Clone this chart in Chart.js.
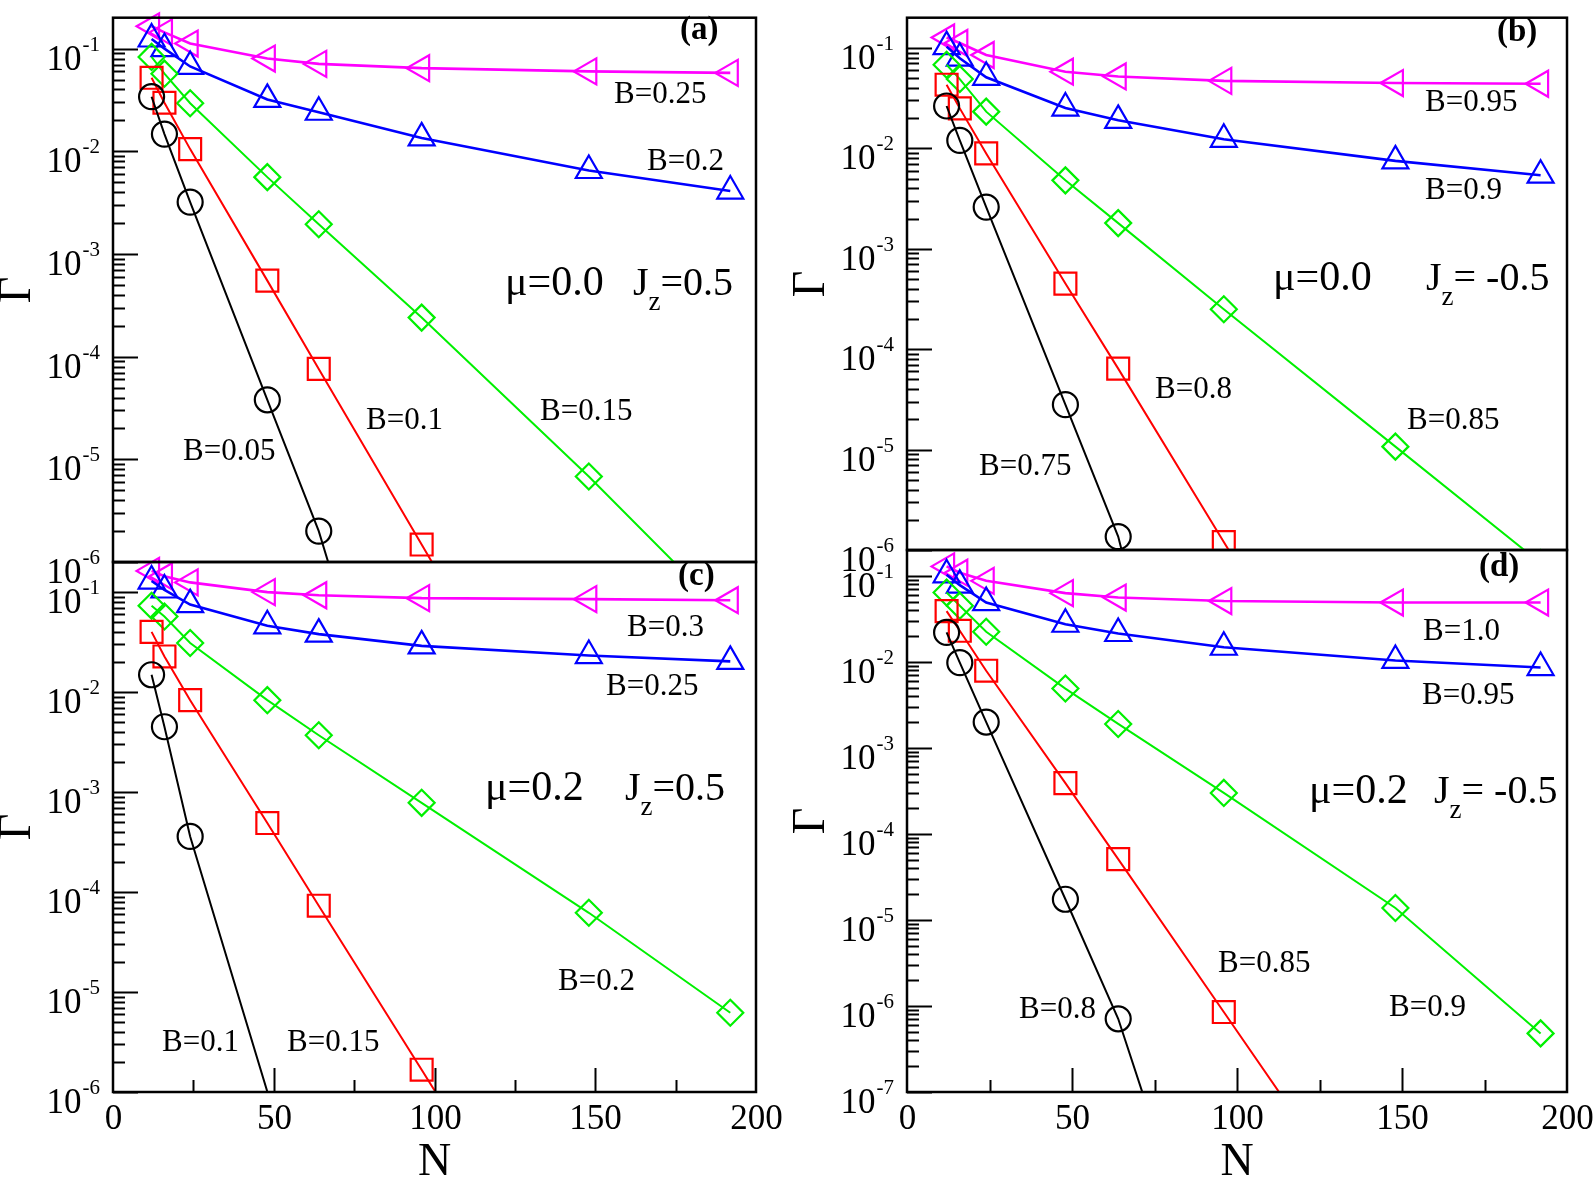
<!DOCTYPE html>
<html>
<head>
<meta charset="utf-8">
<title>Gamma vs N</title>
<script src="https://cdn.jsdelivr.net/npm/chart.js@4.4.0/dist/chart.umd.min.js"></script>
<style>
  html, body { margin: 0; padding: 0; background: #fff; }
  #wrap { position: relative; width: 1596px; height: 1178px; overflow: hidden; }
  #wrap canvas { position: absolute; left: 0; top: 0; }
</style>
</head>
<body>
<div id="wrap">
  <canvas id="chartC" width="1596" height="1178"></canvas>
  <canvas id="chartD" width="1596" height="1178"></canvas>
  <canvas id="chartA" width="1596" height="1178"></canvas>
  <canvas id="chartB" width="1596" height="1178"></canvas>
</div>
<script>
'use strict';

// ===== DATA =====
// chain lengths used in every panel
const N_VALUES = [12, 16, 24, 48, 64, 96, 148, 192];
const X_TICKS = [0, 50, 100, 150, 200];
const X_MINOR_TICKS = [25, 75, 125, 175];

// (a) mu=0.0, Jz=0.5  (last entries of the steep curves lie below the axis)
const A_B005 = [0.034, 0.0147, 0.0032, 3.8e-5, 2.0e-6, 1e-9];
const A_B010 = [0.052, 0.0297, 0.0105, 5.5e-4, 7.6e-5, 1.48e-6, 2.5e-9];
const A_B015 = [0.083, 0.057, 0.0294, 0.0056, 0.00195, 2.4e-4, 6.8e-6, 2.8e-7];
const A_B020 = [0.124, 0.10, 0.067, 0.032, 0.024, 0.0135, 0.0065, 0.0041];
const A_B025 = [0.165, 0.144, 0.112, 0.080, 0.071, 0.0645, 0.060, 0.058];

// (b) mu=0.0, Jz=-0.5
const B_B075 = [0.0264, 0.012, 0.0026, 2.8e-5, 1.36e-6, 1e-10];
const B_B080 = [0.043, 0.025, 0.0089, 4.5e-4, 6.4e-5, 1.2e-6, 2e-9];
const B_B085 = [0.068, 0.049, 0.0232, 0.0048, 0.0018, 2.5e-4, 1.07e-5, 7.4e-7];
const B_B090 = [0.103, 0.079, 0.051, 0.0252, 0.019, 0.0123, 0.0075, 0.0054];
const B_B095 = [0.127, 0.112, 0.085, 0.058, 0.052, 0.047, 0.0447, 0.044];

// (c) mu=0.2, Jz=0.5
const C_B010_N = [12, 16, 24, 64];
const C_B010 = [0.0149, 0.0045, 3.6e-4, 2e-8];
const C_B015 = [0.040, 0.0227, 0.0083, 4.9e-4, 7.3e-5, 1.67e-6, 3.5e-9];
const C_B020 = [0.073, 0.057, 0.031, 0.0083, 0.0037, 7.8e-4, 6.2e-5, 6.2e-6];
const C_B025 = [0.129, 0.105, 0.075, 0.046, 0.038, 0.029, 0.0232, 0.0203];
const C_B030 = [0.163, 0.144, 0.125, 0.10, 0.093, 0.087, 0.085, 0.083];

// (d) mu=0.2, Jz=-0.5
const D_B080 = [0.022, 0.0098, 0.002, 1.74e-5, 7.1e-7, 1.3e-10];
const D_B085 = [0.039, 0.023, 0.0079, 3.9e-4, 5.1e-5, 8.5e-7, 1.1e-9];
const D_B090 = [0.064, 0.045, 0.0224, 0.0049, 0.0019, 3.0e-4, 1.38e-5, 4.8e-7];
const D_B095 = [0.103, 0.078, 0.049, 0.0274, 0.0214, 0.0148, 0.0104, 0.0086];
const D_B100 = [0.129, 0.109, 0.0876, 0.063, 0.056, 0.051, 0.049, 0.049];

// ===== STYLE =====
const W = 1596, H = 1178;
const FONT = "'Liberation Serif', 'DejaVu Serif', serif";

const STYLES = {
  black:   { color: '#000000', shape: 'circle',   radius: 12.5, line: 2 },
  red:     { color: '#ff0000', shape: 'rect',     radius: 15.5, line: 2 },
  green:   { color: '#00f000', shape: 'rectRot',  radius: 13,   line: 2 },
  blue:    { color: '#0000ff', shape: 'triangle', radius: 15,   line: 2.6 },
  magenta: { color: '#ff00ff', shape: 'triangle', radius: 15,   line: 2.6, rot: -90 },
};

const PANELS = [
  {
    canvas: 'chartA', box: { left: 113, right: 756, top: 9, bottom: 562 }, yMin: 1e-6, xAxis: false,
    series: [
      { n: N_VALUES, v: A_B005, style: 'black' },
      { n: N_VALUES, v: A_B010, style: 'red' },
      { n: N_VALUES, v: A_B015, style: 'green' },
      { n: N_VALUES, v: A_B020, style: 'blue' },
      { n: N_VALUES, v: A_B025, style: 'magenta' },
    ],
    tag: ['(a)', 680, 39],
    param: { mu: 'μ=0.0', muX: 505, jX: 633, rest: '=0.5', y: 295 },
    notes: [['B=0.25', 614, 103], ['B=0.2', 647, 170], ['B=0.15', 540, 420],
            ['B=0.1', 366, 429], ['B=0.05', 183, 460]],
  },
  {
    canvas: 'chartB', box: { left: 907, right: 1567, top: 8, bottom: 550 }, yMin: 1e-6, xAxis: false,
    series: [
      { n: N_VALUES, v: B_B075, style: 'black' },
      { n: N_VALUES, v: B_B080, style: 'red' },
      { n: N_VALUES, v: B_B085, style: 'green' },
      { n: N_VALUES, v: B_B090, style: 'blue' },
      { n: N_VALUES, v: B_B095, style: 'magenta' },
    ],
    tag: ['(b)', 1497, 41],
    param: { mu: 'μ=0.0', muX: 1273, jX: 1426, rest: '= -0.5', y: 290 },
    notes: [['B=0.95', 1425, 111], ['B=0.9', 1425, 199], ['B=0.85', 1407, 429],
            ['B=0.8', 1155, 398], ['B=0.75', 979, 475]],
  },
  {
    canvas: 'chartC', box: { left: 113, right: 756, top: 562, bottom: 1092 }, yMin: 1e-6, xAxis: true,
    series: [
      { n: C_B010_N, v: C_B010, style: 'black' },
      { n: N_VALUES, v: C_B015, style: 'red' },
      { n: N_VALUES, v: C_B020, style: 'green' },
      { n: N_VALUES, v: C_B025, style: 'blue' },
      { n: N_VALUES, v: C_B030, style: 'magenta' },
    ],
    tag: ['(c)', 678, 585],
    param: { mu: 'μ=0.2', muX: 485, jX: 625, rest: '=0.5', y: 800 },
    notes: [['B=0.3', 627, 636], ['B=0.25', 606, 695], ['B=0.2', 558, 990],
            ['B=0.1', 162, 1051], ['B=0.15', 287, 1051]],
  },
  {
    canvas: 'chartD', box: { left: 907, right: 1567, top: 550, bottom: 1092 }, yMin: 1e-7, xAxis: true,
    series: [
      { n: N_VALUES, v: D_B080, style: 'black' },
      { n: N_VALUES, v: D_B085, style: 'red' },
      { n: N_VALUES, v: D_B090, style: 'green' },
      { n: N_VALUES, v: D_B095, style: 'blue' },
      { n: N_VALUES, v: D_B100, style: 'magenta' },
    ],
    tag: ['(d)', 1479, 576],
    param: { mu: 'μ=0.2', muX: 1309, jX: 1434, rest: '= -0.5', y: 803 },
    notes: [['B=1.0', 1423, 640], ['B=0.95', 1422, 704], ['B=0.9', 1389, 1016],
            ['B=0.85', 1218, 972], ['B=0.8', 1019, 1018]],
  },
];

const Y_MAX = 0.2;

// ===== DECORATION (frame, inward ticks, labels) =====
function decorPlugin(panel) {
  return {
    id: 'decor_' + panel.canvas,
    afterDatasetsDraw(chart) {
      const { ctx, chartArea: a, scales: { x, y } } = chart;
      ctx.save();
      ctx.strokeStyle = '#000';
      ctx.fillStyle = '#000';

      // frame
      ctx.lineWidth = 2.5;
      ctx.strokeRect(a.left, a.top, a.right - a.left, a.bottom - a.top);

      // y ticks (inward) and labels 10^k
      ctx.lineWidth = 2;
      const kMin = Math.round(Math.log10(panel.yMin));
      for (let k = kMin; k <= -1; k++) {
        const py = Math.round(y.getPixelForValue(Math.pow(10, k))) + 0.5;
        ctx.beginPath();
        ctx.moveTo(a.left, py);
        ctx.lineTo(a.left + 25, py);
        ctx.stroke();
        for (let m = 2; m <= 9; m++) {
          const v = m * Math.pow(10, k);
          if (v >= Y_MAX) break;
          const pm = Math.round(y.getPixelForValue(v)) + 0.5;
          ctx.beginPath();
          ctx.moveTo(a.left, pm);
          ctx.lineTo(a.left + 12, pm);
          ctx.stroke();
        }
        // label
        const exp = String(k);
        ctx.textBaseline = 'alphabetic';
        ctx.textAlign = 'right';
        ctx.font = '21px ' + FONT;
        const expRight = a.left - 13;
        const expW = ctx.measureText(exp).width;
        ctx.fillText(exp, expRight, py + 1);
        ctx.font = '35px ' + FONT;
        ctx.fillText('10', expRight - expW - 1, py + 20);
      }

      // x ticks and labels
      if (panel.xAxis) {
        ctx.lineWidth = 2;
        X_TICKS.forEach(t => {
          const px = Math.round(x.getPixelForValue(t)) + 0.5;
          if (t > 0 && t < 200) {
            ctx.beginPath();
            ctx.moveTo(px, a.bottom);
            ctx.lineTo(px, a.bottom - 24);
            ctx.stroke();
          }
          ctx.font = '35px ' + FONT;
          ctx.textAlign = 'center';
          ctx.textBaseline = 'alphabetic';
          ctx.fillText(String(t), px, a.bottom + 37);
        });
        X_MINOR_TICKS.forEach(t => {
          const px = Math.round(x.getPixelForValue(t)) + 0.5;
          ctx.beginPath();
          ctx.moveTo(px, a.bottom);
          ctx.lineTo(px, a.bottom - 12);
          ctx.stroke();
        });
        ctx.font = '46px ' + FONT;
        ctx.textAlign = 'center';
        ctx.fillText('N', (a.left + a.right) / 2, 1175);
      }

      // y title
      ctx.save();
      ctx.translate(a.left - 95, (a.top + a.bottom) / 2);
      ctx.rotate(-Math.PI / 2);
      ctx.font = '46px ' + FONT;
      ctx.textAlign = 'center';
      ctx.textBaseline = 'middle';
      ctx.fillText('Γ', 0, 0);
      ctx.restore();

      // panel tag
      ctx.textAlign = 'left';
      ctx.textBaseline = 'alphabetic';
      ctx.font = 'bold 33px ' + FONT;
      ctx.fillText(panel.tag[0], panel.tag[1], panel.tag[2]);

      // curve labels
      ctx.font = '31px ' + FONT;
      panel.notes.forEach(([txt, tx, ty]) => ctx.fillText(txt, tx, ty));

      // parameters
      const p = panel.param;
      ctx.font = '42px ' + FONT;
      ctx.fillText(p.mu, p.muX, p.y);
      ctx.font = '40px ' + FONT;
      ctx.fillText('J', p.jX, p.y);
      const jW = ctx.measureText('J').width;
      ctx.font = '27px ' + FONT;
      ctx.fillText('z', p.jX + jW, p.y + 15);
      const zW = ctx.measureText('z').width;
      ctx.font = '40px ' + FONT;
      ctx.fillText(p.rest, p.jX + jW + zW, p.y);

      ctx.restore();
    },
  };
}

function buildChart(panel) {
  const datasets = panel.series.map(s => {
    const st = STYLES[s.style];
    return {
      data: s.v.map((v, i) => ({ x: s.n[i], y: v })),
      borderColor: st.color,
      backgroundColor: 'rgba(0,0,0,0)',
      borderWidth: st.line,
      pointStyle: st.shape,
      pointRotation: st.rot || 0,
      pointRadius: st.radius,
      pointBorderWidth: 2.2,
      pointBorderColor: st.color,
      pointBackgroundColor: 'rgba(0,0,0,0)',
      tension: 0,
      fill: false,
      clip: { left: 30, top: 30, right: 30, bottom: 0 },
    };
  });

  const b = panel.box;
  new Chart(document.getElementById(panel.canvas), {
    type: 'line',
    data: { datasets },
    options: {
      responsive: false,
      animation: false,
      devicePixelRatio: 1,
      events: [],
      layout: { padding: { left: b.left, top: b.top, right: W - b.right, bottom: H - b.bottom } },
      plugins: { legend: { display: false }, tooltip: { enabled: false } },
      scales: {
        x: { type: 'linear', min: 0, max: 200, display: false },
        y: { type: 'logarithmic', min: panel.yMin, max: Y_MAX, display: false },
      },
    },
    plugins: [decorPlugin(panel)],
  });
}

PANELS.forEach(buildChart);
</script>
</body>
</html>
